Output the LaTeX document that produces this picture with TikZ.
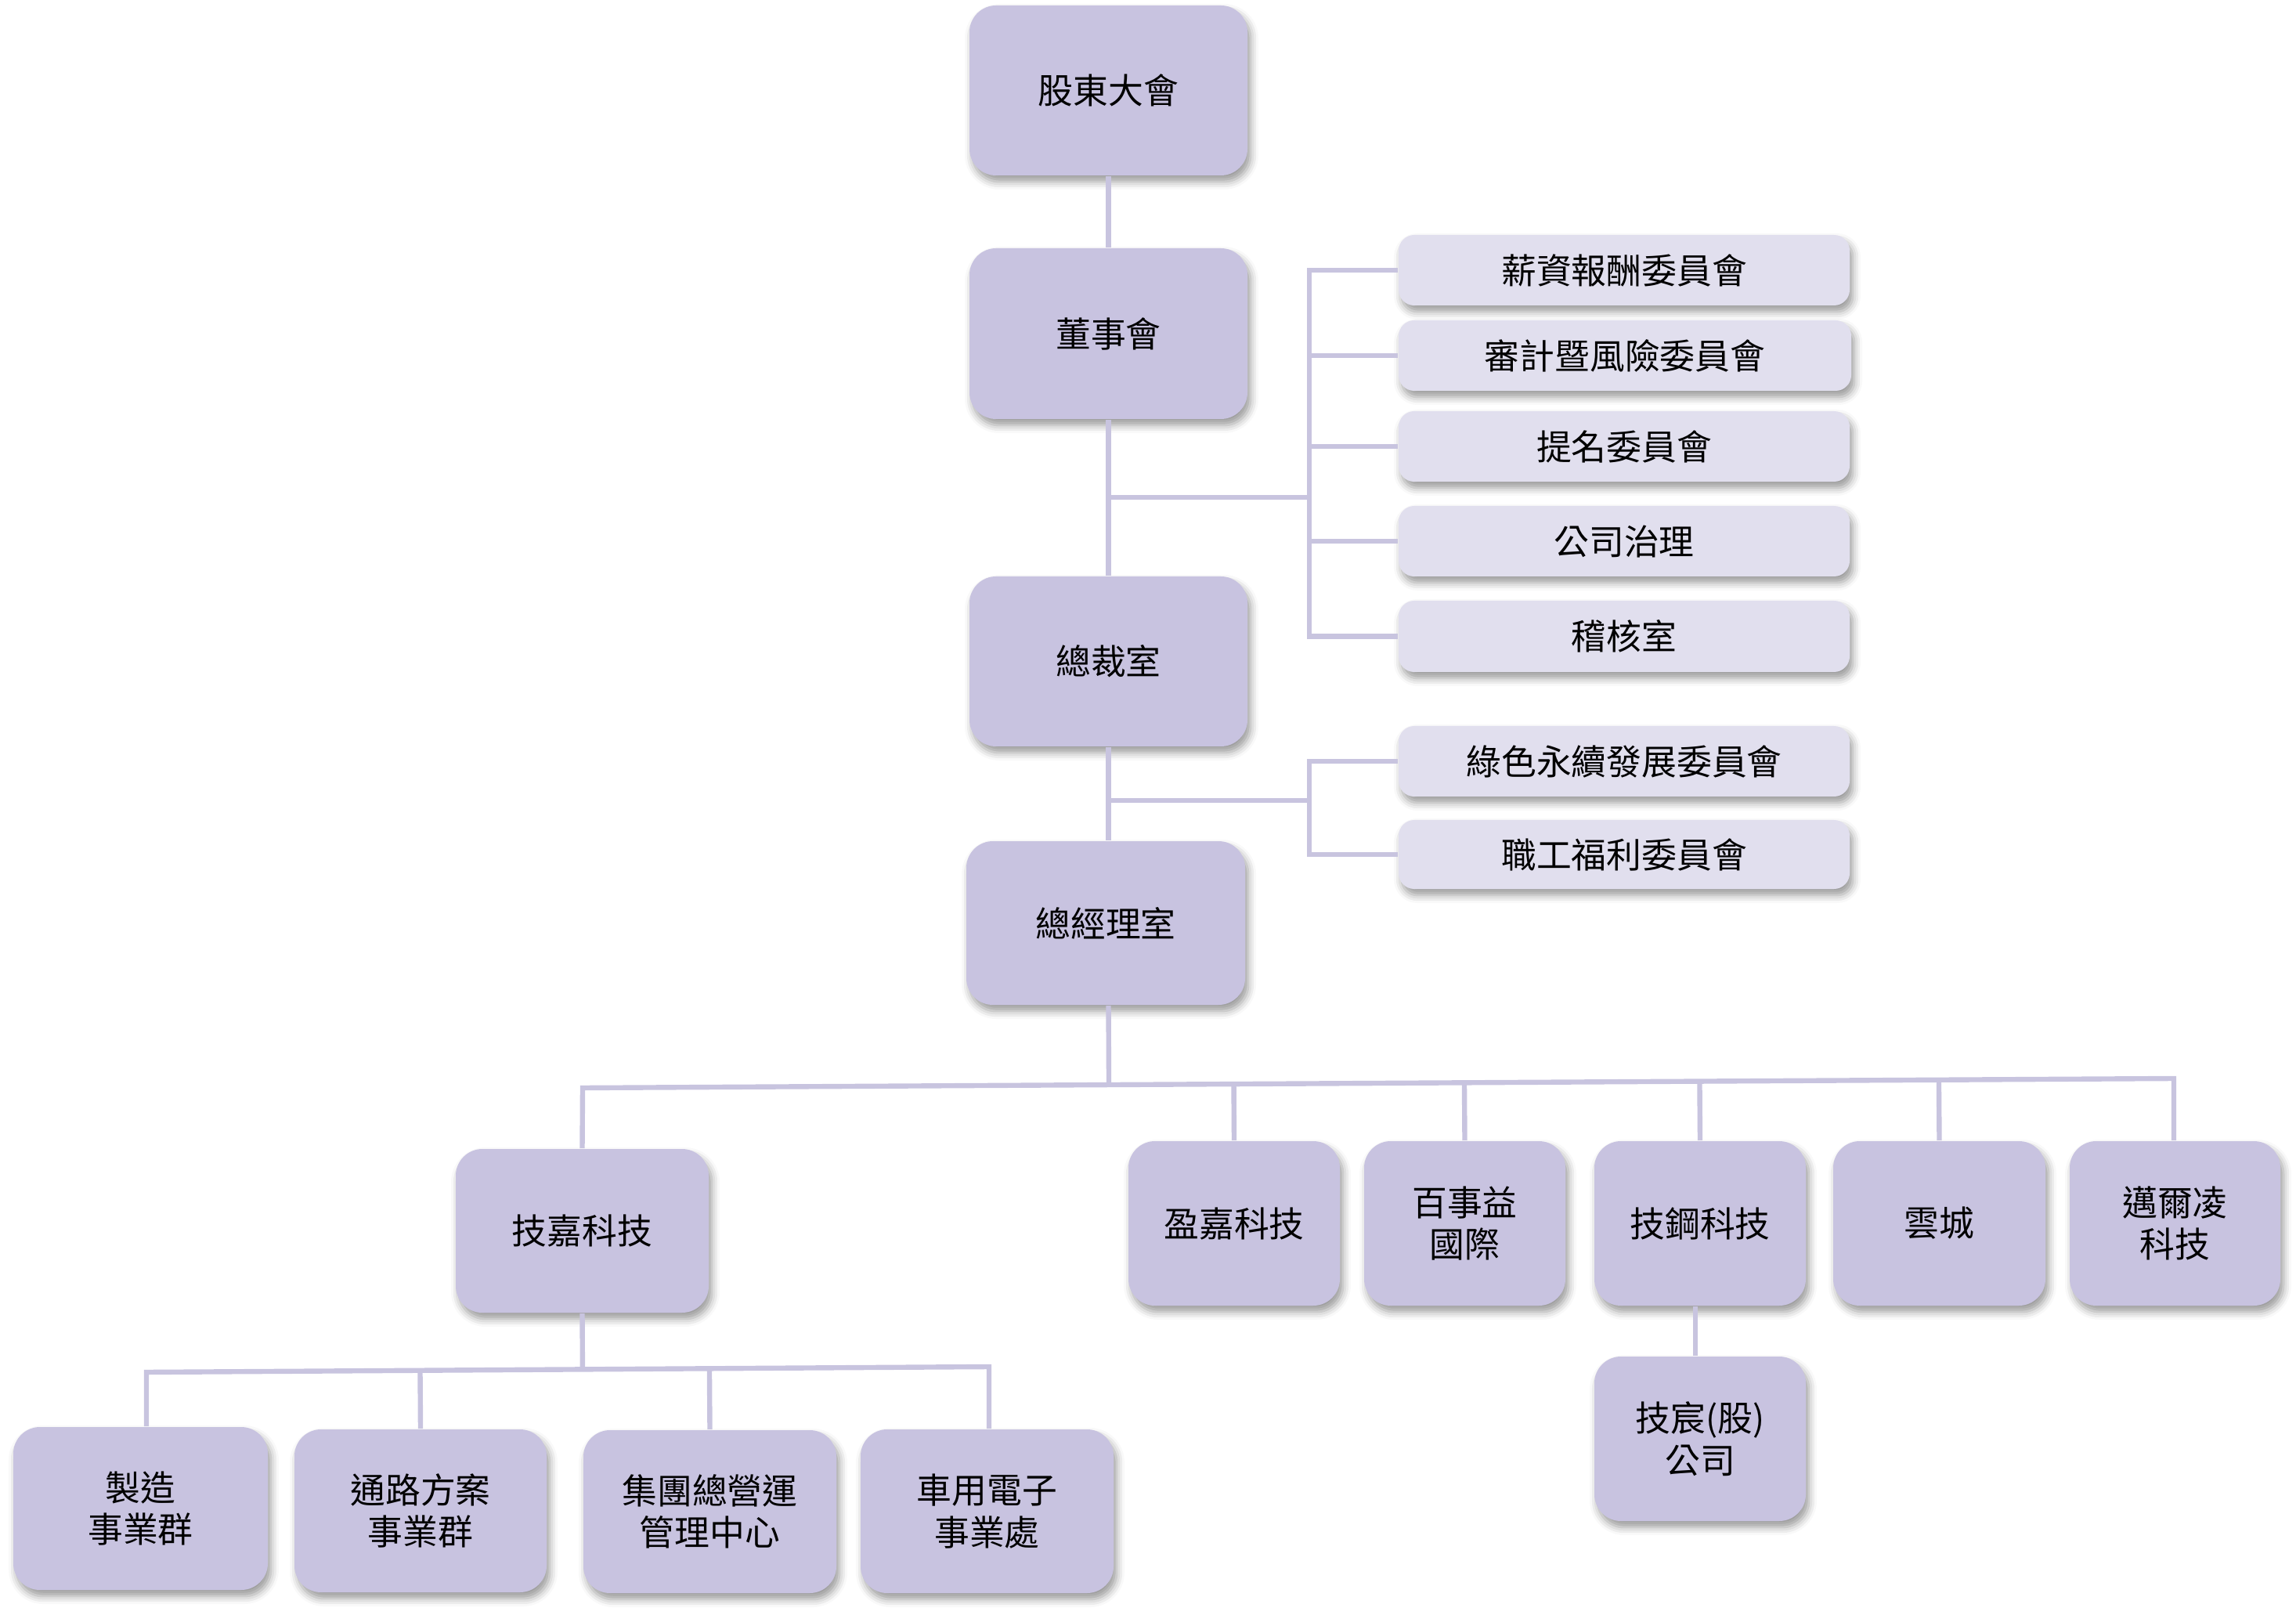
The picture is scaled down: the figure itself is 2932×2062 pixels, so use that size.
\documentclass[tikz,border=0pt]{standalone}
\usepackage{fontspec}
\newfontfamily\cjk{Noto Sans CJK TC}
\usetikzlibrary{calc,shadows.blur}
\definecolor{mainfill}{HTML}{C8C3E0}
\definecolor{subfill}{HTML}{E1DFEE}
\definecolor{linec}{HTML}{C8C4DF}
\tikzset{
  sz/.style 2 args={minimum width=#1*0.25pt, minimum height=#2*0.25pt},
  box/.style={rounded corners=8.5pt, fill=mainfill, draw=none, inner sep=0pt, align=center,
    font=\cjk\fontsize{11.2}{13.4}\selectfont, text=black,
    blur shadow={shadow xshift=1pt, shadow yshift=-2pt, shadow blur radius=2.5pt, shadow opacity=40}},
  cbox/.style={box, fill=subfill, rounded corners=5pt},
  conn/.style={draw=linec, line width=1.6pt},
}
\begin{document}
\begin{tikzpicture}[x=0.25pt,y=-0.25pt]
\useasboundingbox (0,0) rectangle (2932,2062);
% main column
\node[box, sz={355}{217}] (a) at (1415.5,115.5) {股東大會};
\node[box, sz={355}{218}] (b) at (1415.5,426) {董事會};
\node[box, sz={355}{217}] (c) at (1415.5,844.5) {總裁室};
\node[box, sz={356}{209}] (d) at (1412,1178.5) {總經理室};
% committees
\node[cbox, sz={576}{90}] (m1) at (2074,345) {薪資報酬委員會};
\node[cbox, sz={578}{90}] (m2) at (2075,454) {審計暨風險委員會};
\node[cbox, sz={576}{90}] (m3) at (2074,570) {提名委員會};
\node[cbox, sz={576}{90}] (m4) at (2074,691) {公司治理};
\node[cbox, sz={576}{91}] (m5) at (2074,812.5) {稽核室};
\node[cbox, sz={576}{90}] (m6) at (2074,972) {綠色永續發展委員會};
\node[cbox, sz={576}{88}] (m7) at (2074,1091) {職工福利委員會};
% subsidiaries
\node[box, sz={323}{209}] (g) at (743.5,1571.5) {技嘉科技};
\node[box, sz={270}{210}] (n1) at (1576,1562) {盈嘉科技};
\node[box, sz={257}{210}] (n2) at (1870.5,1562) {百事益\\國際};
\node[box, sz={270}{210}] (n3) at (2171,1562) {技鋼科技};
\node[box, sz={271}{210}] (n4) at (2476.5,1562) {雲城};
\node[box, sz={269}{210}] (n5) at (2777.5,1562) {邁爾凌\\科技};
\node[box, sz={270}{210}] (t) at (2171,1837) {技宸(股)\\公司};
% business groups
\node[box, sz={325}{208}] (s1) at (179.5,1926) {製造\\事業群};
\node[box, sz={322}{208}] (s2) at (537,1929) {通路方案\\事業群};
\node[box, sz={323}{208}] (s3) at (906.5,1930) {集團總營運\\管理中心};
\node[box, sz={323}{209}] (s4) at (1260.5,1929.5) {車用電子\\事業處};
% connectors: main column
\draw[conn] (a.south) -- (b.north);
\draw[conn] (b.south) -- (c.north);
\draw[conn] (c.south) -- (c.south |- d.north);
% committee bracket 1
\coordinate (h1) at (1672,635);
\draw[conn] (b.south |- h1) -- (h1);
\draw[conn] (m1.west) -- (h1 |- m1.west) -- (h1 |- m5.west) -- (m5.west);
\foreach \m in {m2,m3,m4} \draw[conn] (h1 |- \m.west) -- (\m.west);
% committee bracket 2
\coordinate (h2) at (1672,1022);
\draw[conn] (c.south |- h2) -- (h2);
\draw[conn] (m6.west) -- (h2 |- m6.west) -- (h2 |- m7.west) -- (m7.west);
% subsidiaries bus
\coordinate (L) at (744,1389);
\coordinate (R) at (2776,1377);
\draw[conn] (c.south |- d.south) -- ($(L)!(c.south |- d.south)!(R)$);
\draw[conn] (g.north) -- (L) -- (R) -- (R |- n5.north);
\foreach \n in {n1,n2,n3,n4} \draw[conn] (\n.north) -- ($(L)!(\n.north)!(R)$);
\draw[conn] ([xshift=-1.5pt]n3.south) -- ([xshift=-1.5pt]t.north);
% business group bus
\coordinate (SL) at (187,1752);
\coordinate (SR) at (1263,1745);
\draw[conn] (g.south) -- ($(SL)!(g.south)!(SR)$);
\draw[conn] (SL |- s1.north) -- (SL) -- (SR) -- (SR |- s4.north);
\foreach \s in {s2,s3} \draw[conn] (\s.north) -- ($(SL)!(\s.north)!(SR)$);
\end{tikzpicture}
\end{document}
